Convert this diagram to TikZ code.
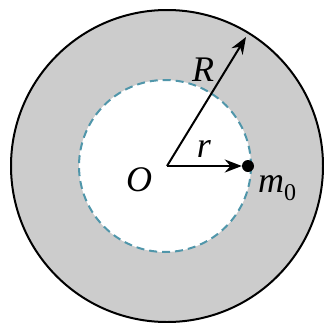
\documentclass[tikz,border=0pt]{standalone}
\usepackage{fontspec}
\setmainfont{Liberation Serif}
\usetikzlibrary{arrows.meta}
\definecolor{shell}{RGB}{204,204,204}
\definecolor{dashc}{RGB}{80,150,170}
\tikzset{
  lbl/.style={font=\fontsize{36}{40}\selectfont\itshape, inner sep=0pt},
  vec/.style={line width=2pt, -{Stealth[length=17pt,width=13pt]}},
}
\begin{document}
\begin{tikzpicture}[x=1pt,y=-1pt]
\useasboundingbox (0,0) rectangle (324,322);
\fill[white] (0,0) rectangle (324,322);
\coordinate (O) at (167,166);
\filldraw[fill=shell, draw=black, line width=2pt] (O) circle (156);
\filldraw[fill=white, draw=dashc, line width=2pt, dash pattern=on 8pt off 5pt] (165,166) circle (86);
\node[circle, fill=black, inner sep=0pt, minimum size=12pt] (m) at (248,166) {};
\coordinate (Rtip) at (246,37);
\draw[vec] (O) -- (Rtip);
\draw[vec] (O) -- (m.west);
\node[lbl] (Rl) at (203,70) {R};
\node[lbl] (rl) at (204,149) {r};
\node[lbl] (Ol) at (139,180) {O};
\node[lbl, anchor=west] (ml) at (258,188) {m\textsubscript{\upshape\fontsize{24}{26}\selectfont 0}};
\end{tikzpicture}
\end{document}
